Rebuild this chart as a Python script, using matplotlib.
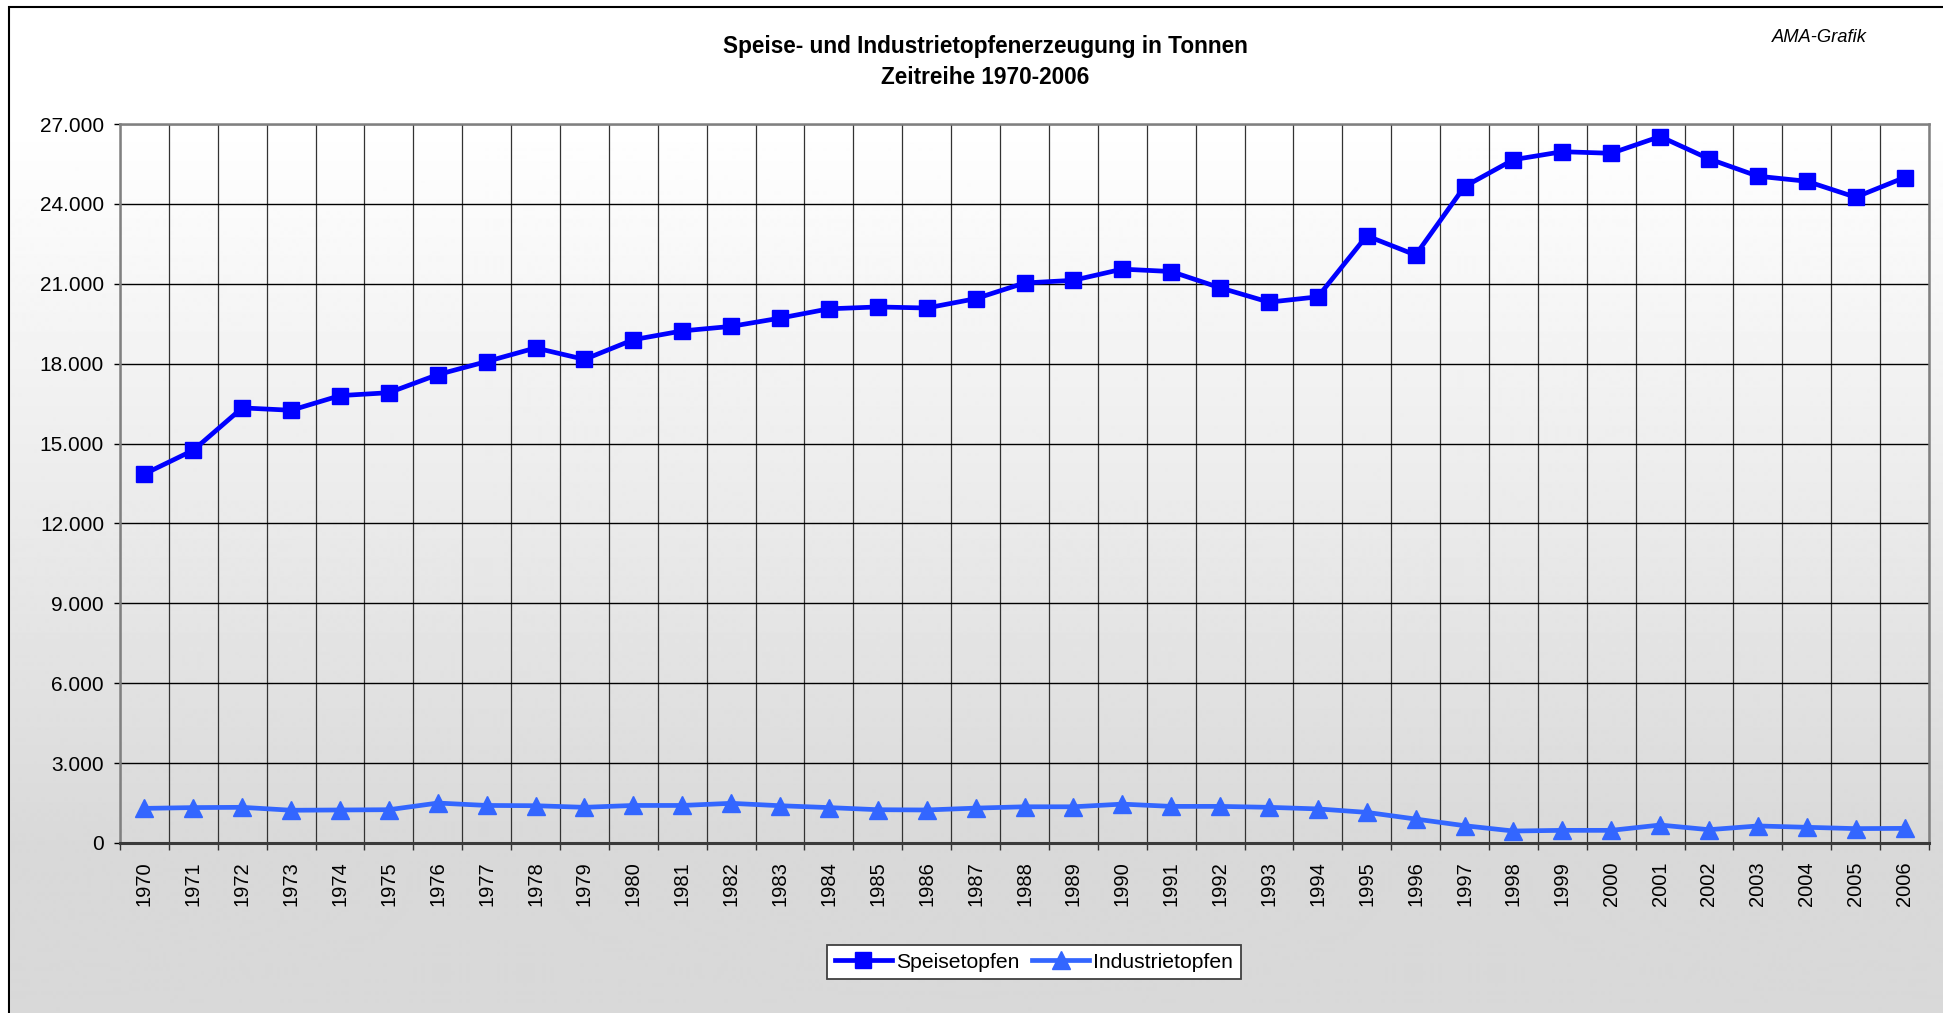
import numpy as np
import matplotlib.pyplot as plt
from matplotlib.patches import Rectangle
from matplotlib.ticker import FuncFormatter, MultipleLocator

plt.rcParams['font.family'] = ['Liberation Sans', 'DejaVu Sans']

years = list(range(1970, 2007))
speisetopfen = [13860, 14750, 16340, 16250, 16800, 16910, 17590, 18080, 18590, 18160,
                18900, 19230, 19400, 19710, 20060, 20130, 20090, 20440, 21030, 21130,
                21550, 21460, 20850, 20310, 20510, 22800, 22080, 24650, 25660, 25960,
                25900, 26530, 25690, 25040, 24850, 24250, 24990]
industrietopfen = [1300, 1330, 1340, 1230, 1240, 1250, 1500, 1410, 1400, 1340,
                   1410, 1410, 1490, 1400, 1330, 1250, 1240, 1310, 1360, 1360,
                   1460, 1375, 1375, 1340, 1280, 1150, 900, 650, 450, 475,
                   475, 675, 500, 640, 590, 540, 550]

W, H = 1943, 1013
fig = plt.figure(figsize=(W / 100, H / 100), dpi=100)

# Hintergrund: Verlauf weiss -> grau
bg = fig.add_axes([0, 0, 1, 1], zorder=-10)
rows = np.arange(H)
shade = np.where(rows < 124, 255, np.where(rows > 843, 217, 255 - (rows - 124) * 38 / 719))
bg.imshow(np.repeat(shade[:, None], 2, axis=1) / 255, cmap='gray', vmin=0, vmax=1,
          aspect='auto', extent=[0, 1, 0, 1])
bg.add_patch(Rectangle((0, 0), 9 / W, 1, color='white', transform=bg.transAxes))
bg.add_patch(Rectangle((0, 1 - 7 / H), 1, 7 / H, color='white', transform=bg.transAxes))
bg.add_patch(Rectangle((9 / W, -0.1), 1.1, 1.1 - 7 / H, fill=False, edgecolor='black',
                       linewidth=1.5, transform=bg.transAxes))
bg.set_xlim(0, 1)
bg.set_ylim(0, 1)
bg.axis('off')

ax = fig.add_axes([120 / W, 1 - 843 / H, (1929 - 120) / W, (843 - 124) / H])
ax.set_facecolor('none')

x = np.arange(len(years))
ax.plot(x, speisetopfen, color='#0000ff', lw=3.4, marker='s', ms=11.5,
        label='Speisetopfen', zorder=4)
ax.plot(x, industrietopfen, color='#3366ff', lw=3.4, marker='^', ms=12.5,
        label='Industrietopfen', zorder=3)

ax.set_xlim(-0.5, len(years) - 0.5)
ax.set_ylim(0, 27000)
ax.yaxis.set_major_locator(MultipleLocator(3000))
ax.yaxis.set_major_formatter(FuncFormatter(lambda v, p: f"{v:,.0f}".replace(",", ".")))
ax.set_xticks(x)
ax.set_xticklabels([str(y) for y in years], rotation=90)
ax.set_xticks(np.arange(-0.5, len(years)), minor=True)

ax.tick_params(axis='x', which='major', length=0, pad=13, labelsize=14.5)
ax.tick_params(axis='x', which='minor', length=5, width=1, color='#333333')
ax.tick_params(axis='y', length=4.5, width=1, pad=7, labelsize=15)

ax.grid(axis='y', which='major', color='black', lw=1)
ax.grid(axis='x', which='minor', color='#333333', lw=0.9)
ax.set_axisbelow(True)

for side in ['top', 'right', 'left']:
    ax.spines[side].set_color('#808080')
    ax.spines[side].set_linewidth(1.8)
ax.spines['bottom'].set_color('#3a3a3a')
ax.spines['bottom'].set_linewidth(2.2)

fig.text(985 / W, 1 - 47 / H, 'Speise- und Industrietopfenerzeugung in Tonnen',
         ha='center', va='center', fontsize=16.3, fontweight='bold')
fig.text(985 / W, 1 - 78 / H, 'Zeitreihe 1970-2006',
         ha='center', va='center', fontsize=16.3, fontweight='bold')
fig.text(1819 / W, 1 - 37 / H, 'AMA-Grafik', ha='center', va='center',
         fontsize=13.2, style='italic')

leg = ax.legend(loc='center', bbox_to_anchor=(1034 / W, 1 - 962 / H),
                bbox_transform=fig.transFigure, ncol=2, fontsize=15.2,
                frameon=True, fancybox=False, framealpha=1, edgecolor='#404040',
                handlelength=2.7, handletextpad=0.2, columnspacing=0.6,
                borderpad=0.35, borderaxespad=0)
leg.get_frame().set_linewidth(1.3)

fig.savefig('out.png', dpi=100)
